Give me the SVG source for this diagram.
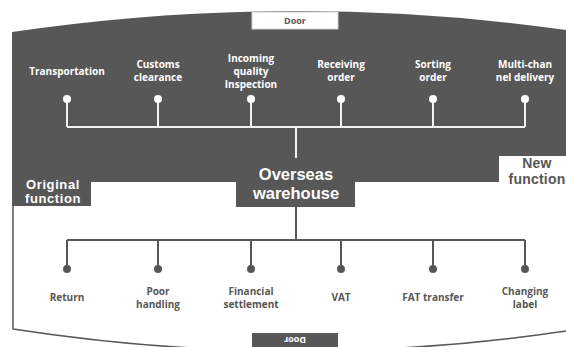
<svg xmlns="http://www.w3.org/2000/svg" width="566" height="347" viewBox="0 0 566 347">
<defs>
<style>
.bg{fill:#575757}
.wl{fill:#ffffff;font-family:"Open Sans","Noto Sans","DejaVu Sans",sans-serif;font-weight:bold;font-size:10px;text-anchor:middle}
.gl{fill:#575757;font-family:"Open Sans","Noto Sans","DejaVu Sans",sans-serif;font-weight:bold;font-size:10px;text-anchor:middle}
.hd{font-family:"Liberation Sans",Arial,sans-serif}
.big{font-size:16.5px}
.mid{font-size:13px;letter-spacing:0.6px}
.mid2{font-size:14px;letter-spacing:0.2px}
.door{font-size:9px}
.tl{stroke:#f2f2f2;stroke-width:2;fill:none}
.bl{stroke:#575757;stroke-width:2;fill:none}
.wd{fill:#ffffff}
.gd{fill:#575757}
.outline{stroke:#575757;stroke-width:1.5;fill:none}
</style>
</defs>
<rect width="566" height="347" fill="#ffffff"/>
<g id="building">
<path class="bg" d="M12,32 Q291,-9 566,30 L566,156 L499,156 L499,182 L355,182 L355,207 L236,207 L236,182 L91,182 L91,206 L12,206 Z"/>
<path class="outline" d="M13,206 L13,329 Q290,372 566,331"/>
</g>
<g id="door-top">
<rect x="252" y="12" width="86" height="17" fill="#ffffff" stroke="#d0d0d0" stroke-width="1"/>
<text class="gl door" x="295" y="24">Door</text>
</g>
<g id="door-bottom">
<rect x="252" y="333" width="86" height="18" fill="#575757"/>
<text class="wl door" x="295" y="340" transform="rotate(180 295 340)" dy="3">Door</text>
</g>
<g id="connectors">
<path class="tl" d="M67,99 V127 M158,99 V127 M251,99 V127 M341,99 V127 M433,99 V127 M525,99 V127 M67,127 H525 M296,127 V158"/>
<path class="bl" d="M296,207 V240 M67,240 H525 M67,240 V269 M158,240 V269 M251,240 V269 M341,240 V269 M433,240 V269 M525,240 V269"/>
<circle class="wd" cx="67" cy="99" r="4"/>
<circle class="wd" cx="158" cy="99" r="4"/>
<circle class="wd" cx="251" cy="99" r="4"/>
<circle class="wd" cx="341" cy="99" r="4"/>
<circle class="wd" cx="433" cy="99" r="4"/>
<circle class="wd" cx="525" cy="99" r="4"/>
<circle class="gd" cx="67" cy="269" r="4"/>
<circle class="gd" cx="158" cy="269" r="4"/>
<circle class="gd" cx="251" cy="269" r="4"/>
<circle class="gd" cx="341" cy="269" r="4"/>
<circle class="gd" cx="433" cy="269" r="4"/>
<circle class="gd" cx="525" cy="269" r="4"/>
</g>
<g id="center">
<text class="wl hd big" x="296" y="180">Overseas</text>
<text class="wl hd big" x="296" y="199">warehouse</text>
</g>
<g id="original-function">
<text class="wl hd mid" x="53" y="189">Original</text>
<text class="wl hd mid" x="53" y="203">function</text>
</g>
<g id="new-function">
<text class="gl hd mid2" x="537" y="168">New</text>
<text class="gl hd mid2" x="537" y="184">function</text>
</g>
<g id="transportation"><text class="wl" x="67" y="75">Transportation</text></g>
<g id="customs"><text class="wl" x="158" y="68">Customs</text><text class="wl" x="158" y="81">clearance</text></g>
<g id="incoming"><text class="wl" x="251" y="62">Incoming</text><text class="wl" x="251" y="75">quality</text><text class="wl" x="251" y="88">Inspection</text></g>
<g id="receiving"><text class="wl" x="341" y="68">Receiving</text><text class="wl" x="341" y="81">order</text></g>
<g id="sorting"><text class="wl" x="433" y="68">Sorting</text><text class="wl" x="433" y="81">order</text></g>
<g id="multichannel"><text class="wl" x="525" y="68">Multi-chan</text><text class="wl" x="525" y="81">nel delivery</text></g>
<g id="return"><text class="gl" x="67" y="301">Return</text></g>
<g id="poor-handling"><text class="gl" x="158" y="295">Poor</text><text class="gl" x="158" y="308">handling</text></g>
<g id="financial"><text class="gl" x="251" y="295">Financial</text><text class="gl" x="251" y="308">settlement</text></g>
<g id="vat"><text class="gl" x="341" y="301">VAT</text></g>
<g id="fat"><text class="gl" x="433" y="301">FAT transfer</text></g>
<g id="changing"><text class="gl" x="525" y="295">Changing</text><text class="gl" x="525" y="308">label</text></g>
</svg>
